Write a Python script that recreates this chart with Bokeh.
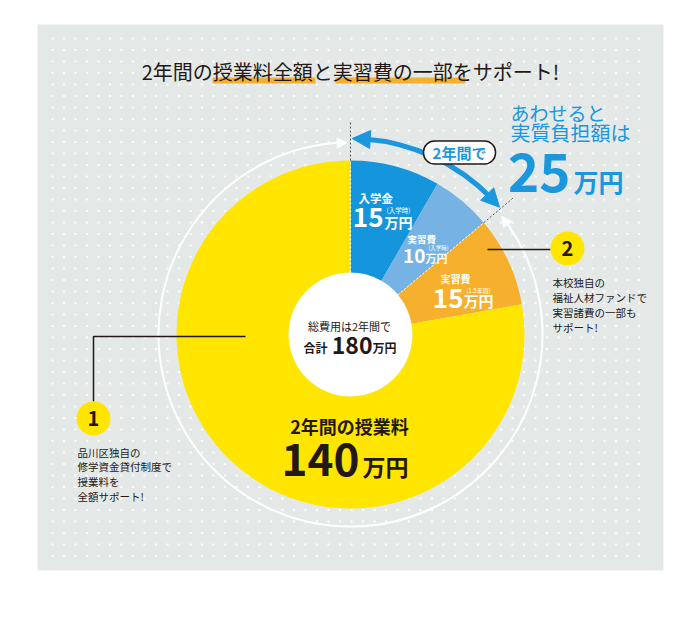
import math
import numpy as np
from bokeh.plotting import figure
from bokeh.models import Range1d, Arrow, NormalHead, ColumnDataSource
from bokeh.core.properties import value
from bokeh.embed import file_html
from bokeh.resources import INLINE

# ---------------- data ----------------
slice_names = ["入学金", "実習費", "実習費", "2年間の授業料"]
slice_values = [15, 10, 15, 140]
slice_notes = ["(入学時)", "(入学時)", "(1.5年間)", ""]
slice_colors = ["#1596dc", "#76b3e4", "#f6b02d", "#ffe500"]
unit = "万円"
title_text = "2年間の授業料全額と実習費の一部をサポート!"
total_caption = "総費用は2年間で"
total_prefix = "合計"
self_pay_lines = ["あわせると", "実質負担額は"]
period_label = "2年間で"
note1_lines = ["品川区独自の", "修学資金貸付制度で", "授業料を", "全額サポート!"]
note2_lines = ["本校独自の", "福祉人材ファンドで", "実習諸費の一部も", "サポート!"]

total = sum(slice_values)
self_pay = total - slice_values[3] - slice_values[2]

FONT = "Noto Sans CJK JP"
BLUE = "#1a97dd"
INK = "#231815"
PANEL = "#e4e9e8"

CX, CY = 350, 334
R_IN, R_OUT = 62, 174

p = figure(width=684, height=604, x_range=Range1d(0, 684), y_range=Range1d(-604, 0),
           toolbar_location=None, output_backend="svg", min_border=0)
p.axis.visible = False
p.grid.visible = False
p.outline_line_color = None
p.background_fill_color = "white"
p.border_fill_color = "white"


def Y(sy):
    return -sy


def txt(x, sy, s, size, color=INK, bold=False, align="left"):
    p.text(x=[x], y=[Y(sy)], text=[s], text_font=value(FONT), text_font_size=f"{size}px",
           text_color=color, text_font_style="bold" if bold else "normal",
           text_align=align, text_baseline="middle")


def pol(theta_deg, r):
    t = math.radians(theta_deg)
    return CX + r * math.cos(t), Y(CY) + r * math.sin(t)


# panel + dots
p.quad(left=[37], right=[663], top=[Y(24)], bottom=[Y(570)], fill_color=PANEL, line_color=None)
gx, gy = np.meshgrid(np.arange(52, 650, 11.5), np.arange(38, 558, 11.5))
p.scatter(gx.ravel(), -gy.ravel(), size=2.2, marker="square", fill_color="white",
          line_color=None, fill_alpha=0.85)

# title highlight + title
p.quad(left=[212, 335], right=[315, 465], top=[Y(77), Y(77)], bottom=[Y(83), Y(83)],
       fill_color="#f6b02d", line_color=None)
txt(350, 71, title_text, 20, INK, False, "center")

# white outer ring arrow (the covered part)
p.arc(x=[CX], y=[Y(CY)], radius=192, start_angle=math.radians(92), end_angle=math.radians(36),
      direction="anticlock", line_color="white", line_width=2)
for tip, base in [(91, 95), (38, 34)]:
    bx, by = pol(base, 192)
    tx, ty = pol(tip, 192)
    p.add_layout(Arrow(end=NormalHead(size=10, fill_color="white", line_color="white"),
                       x_start=bx, y_start=by, x_end=tx, y_end=ty, line_alpha=0))

# donut
cum = np.cumsum([0] + slice_values)
starts = [math.pi / 2 - 2 * math.pi * c / total for c in cum[:-1]]
ends = [math.pi / 2 - 2 * math.pi * c / total for c in cum[1:]]
src = ColumnDataSource(dict(start=starts, end=ends, color=slice_colors))
p.circle(x=[CX], y=[Y(CY)], radius=R_IN, fill_color="white", line_color=None)
p.annular_wedge(x=CX, y=Y(CY), inner_radius=R_IN, outer_radius=R_OUT, start_angle="start",
                end_angle="end", direction="clock", fill_color="color", line_color=None, source=src)

# boundaries of the self-paid part (top and after 2nd slice)
for c in [cum[0], cum[2]]:
    th = 90 - 360 * c / total
    x0, y0 = pol(th, R_IN)
    x1, y1 = pol(th, R_OUT)
    x2, y2 = pol(th, 214)
    p.line([x0, x1], [y0, y1], line_color="white", line_dash="2 2", line_width=1)
    p.line([x1, x2], [y1, y2], line_color="#555555", line_dash="2 2", line_width=1)

# blue double arrow
th_a = 90
th_b = 90 - 360 * cum[2] / total
p.arc(x=[CX], y=[Y(CY)], radius=196, start_angle=math.radians(th_b + 4),
      end_angle=math.radians(th_a - 4), direction="anticlock", line_color=BLUE, line_width=5)
for tip, base in [(th_a - 0.5, th_a - 6), (th_b + 0.5, th_b + 6)]:
    bx, by = pol(base, 196)
    tx, ty = pol(tip, 196)
    p.add_layout(Arrow(end=NormalHead(size=18, fill_color=BLUE, line_color=BLUE),
                       x_start=bx, y_start=by, x_end=tx, y_end=ty, line_alpha=0))

# period label box
p.rect(x=[459], y=[Y(152)], width=72, height=23, fill_color="white", line_color=INK,
       line_width=1.5, border_radius=11)
txt(459, 152, period_label, 15, BLUE, True, "center")

# right blue text
txt(510, 112, self_pay_lines[0], 19, BLUE)
txt(510, 132, self_pay_lines[1], 20, BLUE)
txt(570, 172, str(self_pay), 53, BLUE, True, "right")
txt(573, 180, unit, 25, BLUE, True)

# slice labels
txt(358, 197, slice_names[0], 11.5, "white", True)
txt(383, 217, str(slice_values[0]), 26, "white", True, "right")
txt(384, 221, unit, 14, "white", True)
txt(398, 209.5, slice_notes[0], 6.5, "white", False, "center")

txt(407, 238.5, slice_names[1], 9.5, "white", True)
txt(425, 255, str(slice_values[1]), 19, "white", True, "right")
txt(425, 257, unit, 11, "white", True)
txt(438, 247.5, slice_notes[1], 5.5, "white", False, "center")

txt(440, 277.5, slice_names[2], 10, "white", True)
txt(463, 297.5, str(slice_values[2]), 26, "white", True, "right")
txt(463, 300, unit, 15, "white", True)
txt(478, 290, slice_notes[2], 6, "white", False, "center")

txt(349, 425, slice_names[3], 18, INK, True, "center")
txt(359, 458.5, str(slice_values[3]), 44, INK, True, "right")
txt(362, 465, unit, 23, INK, True)

# center
txt(349, 325, total_caption, 11, INK, False, "center")
txt(303, 347, total_prefix, 12, INK, True)
txt(372, 345, str(total), 23, INK, True, "right")
txt(372, 347, unit, 12, INK, True)

# callout 1
p.line([245, 93, 93], [Y(336), Y(336), Y(401)], line_color=INK, line_width=1.5)
p.circle(x=[93], y=[Y(418)], radius=17, fill_color="#ffe500", line_color=None)
txt(93, 418, "1", 20, INK, True, "center")
for i, s in enumerate(note1_lines):
    txt(77, 451.5 + i * 14.7, s, 10.5, INK)

# callout 2
p.line([487, 550], [Y(249), Y(249)], line_color=INK, line_width=1.5)
p.circle(x=[567], y=[Y(248)], radius=17, fill_color="#ffe500", line_color=None)
txt(567, 248, "2", 20, INK, True, "center")
for i, s in enumerate(note2_lines):
    txt(552, 281.5 + i * 15, s, 10.5, INK)

open("out.html", "w").write(file_html(p, INLINE))
